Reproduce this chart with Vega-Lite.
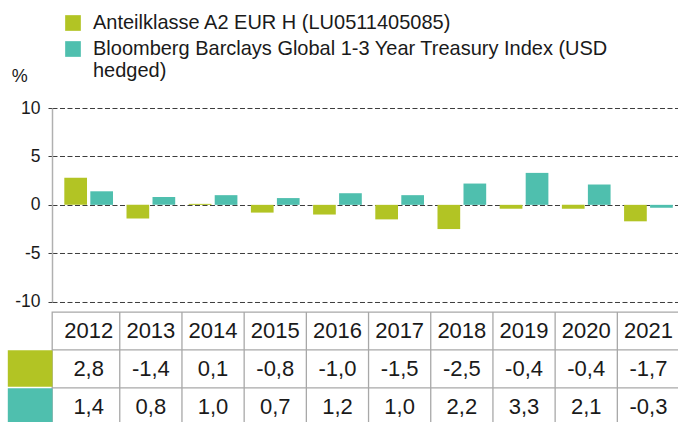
{
  "$schema": "https://vega.github.io/schema/vega-lite/v6.json",
  "autosize": {"type": "pad"},
  "padding": {"left": -12, "top": 13, "right": 0, "bottom": 0},
  "background": "white",
  "config": {
    "font": "Liberation Sans",
    "view": {"stroke": null},
    "locale": {"number": {"decimal": ",", "thousands": ".", "grouping": [3], "currency": ["", " €"], "minus": "-"}}
  },
  "datasets": {
    "perf": [
      {"year": "2012", "series": "Anteilklasse A2 EUR H (LU0511405085)", "value": 2.8},
      {"year": "2013", "series": "Anteilklasse A2 EUR H (LU0511405085)", "value": -1.4},
      {"year": "2014", "series": "Anteilklasse A2 EUR H (LU0511405085)", "value": 0.1},
      {"year": "2015", "series": "Anteilklasse A2 EUR H (LU0511405085)", "value": -0.8},
      {"year": "2016", "series": "Anteilklasse A2 EUR H (LU0511405085)", "value": -1.0},
      {"year": "2017", "series": "Anteilklasse A2 EUR H (LU0511405085)", "value": -1.5},
      {"year": "2018", "series": "Anteilklasse A2 EUR H (LU0511405085)", "value": -2.5},
      {"year": "2019", "series": "Anteilklasse A2 EUR H (LU0511405085)", "value": -0.4},
      {"year": "2020", "series": "Anteilklasse A2 EUR H (LU0511405085)", "value": -0.4},
      {"year": "2021", "series": "Anteilklasse A2 EUR H (LU0511405085)", "value": -1.7},
      {"year": "2012", "series": "Bloomberg Barclays Global 1-3 Year Treasury Index (USD hedged)", "value": 1.4},
      {"year": "2013", "series": "Bloomberg Barclays Global 1-3 Year Treasury Index (USD hedged)", "value": 0.8},
      {"year": "2014", "series": "Bloomberg Barclays Global 1-3 Year Treasury Index (USD hedged)", "value": 1.0},
      {"year": "2015", "series": "Bloomberg Barclays Global 1-3 Year Treasury Index (USD hedged)", "value": 0.7},
      {"year": "2016", "series": "Bloomberg Barclays Global 1-3 Year Treasury Index (USD hedged)", "value": 1.2},
      {"year": "2017", "series": "Bloomberg Barclays Global 1-3 Year Treasury Index (USD hedged)", "value": 1.0},
      {"year": "2018", "series": "Bloomberg Barclays Global 1-3 Year Treasury Index (USD hedged)", "value": 2.2},
      {"year": "2019", "series": "Bloomberg Barclays Global 1-3 Year Treasury Index (USD hedged)", "value": 3.3},
      {"year": "2020", "series": "Bloomberg Barclays Global 1-3 Year Treasury Index (USD hedged)", "value": 2.1},
      {"year": "2021", "series": "Bloomberg Barclays Global 1-3 Year Treasury Index (USD hedged)", "value": -0.3}
    ]
  },
  "bounds": "flush",
  "spacing": 10,
  "resolve": {"scale": {"x": "independent", "y": "independent"}, "legend": {"color": "independent"}},
  "vconcat": [
    {
      "width": 633.1,
      "height": 193.7,
      "data": {"name": "perf"},
      "mark": {"type": "bar"},
      "encoding": {
        "x": {"field": "year", "type": "nominal", "scale": {"paddingInner": 0.217, "paddingOuter": 0.198}, "axis": null},
        "xOffset": {"field": "series", "type": "nominal", "scale": {"paddingInner": 0.127, "paddingOuter": 0}},
        "y": {
          "field": "value", "type": "quantitative",
          "scale": {"domain": [-10, 10], "nice": false, "zero": false},
          "axis": {
            "values": [-10, -5, 0, 5, 10],
            "grid": true, "gridColor": "#3c3c3c", "gridDash": [5, 2.5], "gridWidth": 1,
            "domainColor": "#b0b0b0", "domainWidth": 1.5,
            "ticks": true, "tickSize": 4, "tickColor": "#3c3c3c", "tickDash": [5, 2.5],
            "labelFontSize": 17.5, "labelColor": "#1a1a1a", "labelPadding": 8,
            "title": "%", "titleAngle": 0, "titleX": -32.7, "titleY": -32,
            "titleAlign": "center", "titleBaseline": "middle",
            "titleFontWeight": "normal", "titleFontSize": 18, "titleColor": "#1a1a1a"
          }
        },
        "color": {
          "field": "series", "type": "nominal",
          "scale": {"range": ["#b2c424", "#4fbfae"]},
          "legend": {
            "orient": "none", "legendX": 11, "legendY": -95, "direction": "vertical",
            "title": null, "padding": 0,
            "symbolType": "square", "symbolSize": 246, "symbolStrokeWidth": 0,
            "labelFontSize": 20, "labelColor": "#1a1a1a", "labelOffset": 10, "labelLimit": 700,
            "rowPadding": 6,
            "labelExpr": "datum.label == 'Bloomberg Barclays Global 1-3 Year Treasury Index (USD hedged)' ? ['Bloomberg Barclays Global 1-3 Year Treasury Index (USD', 'hedged)'] : datum.label"
          }
        }
      }
    },
    {
      "width": 633.1,
      "height": 113.7,
      "view": {"stroke": "#a8a8a8", "strokeWidth": 1.3},
      "data": {"name": "perf"},
      "encoding": {
        "x": {"field": "year", "type": "nominal", "scale": {"paddingInner": 0, "paddingOuter": 0.0895}, "axis": null}
      },
      "layer": [
        {
          "transform": [{"filter": "datum.year == '2012'"}],
          "mark": {"type": "rule", "color": "#a8a8a8", "strokeWidth": 1.3},
          "encoding": {
            "x": null,
            "y": {
              "field": "series", "type": "nominal", "bandPosition": 0,
              "scale": {"domain": ["Jahr", "Anteilklasse A2 EUR H (LU0511405085)", "Bloomberg Barclays Global 1-3 Year Treasury Index (USD hedged)"], "paddingInner": 0, "paddingOuter": 0},
              "axis": {
                "title": null, "labels": false, "domain": false,
                "ticks": true, "tickSize": 44.7, "tickWidth": 36.5, "tickCap": "butt",
                "tickColor": {
                  "condition": [
                    {"test": "datum.value == 'Anteilklasse A2 EUR H (LU0511405085)'", "value": "#b2c424"},
                    {"test": "datum.value == 'Bloomberg Barclays Global 1-3 Year Treasury Index (USD hedged)'", "value": "#4fbfae"}
                  ],
                  "value": "transparent"
                }
              }
            }
          }
        },
        {
          "transform": [{"filter": "indexof(datum.series, 'Bloomberg') == 0"}],
          "mark": {"type": "rule", "color": "#a8a8a8", "strokeWidth": 1.3},
          "encoding": {
            "x": {"field": "year", "type": "nominal", "bandPosition": 1}
          }
        },
        {
          "transform": [{"filter": "indexof(datum.series, 'Bloomberg') == 0"}],
          "mark": {"type": "text", "fontSize": 22, "color": "#1a1a1a"},
          "encoding": {
            "y": {"datum": "Jahr", "type": "nominal"},
            "text": {"field": "year", "type": "nominal"}
          }
        },
        {
          "mark": {"type": "text", "fontSize": 22, "color": "#1a1a1a"},
          "encoding": {
            "y": {"field": "series", "type": "nominal"},
            "text": {"field": "value", "type": "quantitative", "format": ".1f"}
          }
        }
      ]
    }
  ]
}
